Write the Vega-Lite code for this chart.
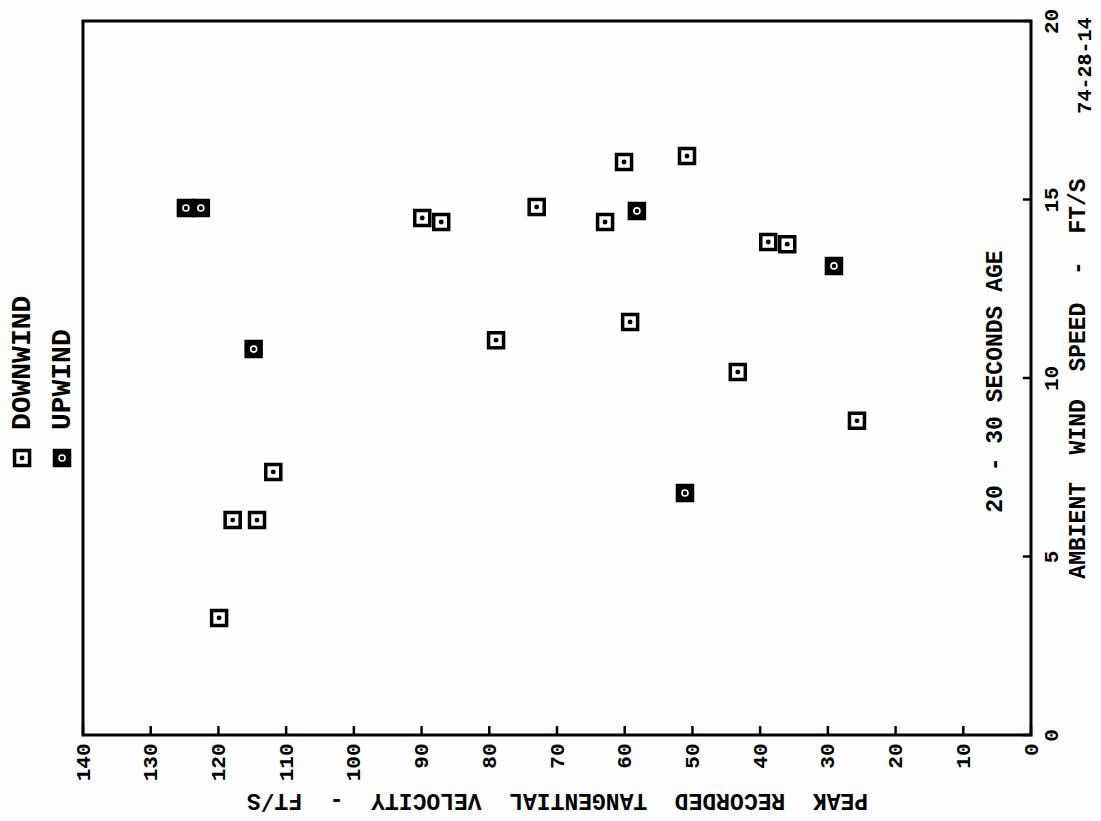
{
  "$schema": "https://vega.github.io/schema/vega-lite/v6.json",
  "width": 948,
  "height": 714,
  "autosize": {"type": "none"},
  "padding": {"left": 83, "top": 21, "right": 70, "bottom": 86},
  "background": "#fdfdfd",
  "config": {
    "view": {"stroke": "black", "strokeWidth": 3},
    "font": "Liberation Mono",
    "axis": {
      "grid": false,
      "zindex": 1,
      "domain": false,
      "ticks": true,
      "tickSize": 8,
      "tickOpacity": 0,
      "labelColor": "black",
      "titleColor": "black",
      "labelFont": "Liberation Mono",
      "titleFont": "Liberation Mono",
      "labelFontWeight": "bold",
      "titleFontWeight": "bold",
      "labelOverlap": false,
      "labelFlush": false
    }
  },
  "datasets": {
    "velocityTicks": [
      {"tick": 0}, {"tick": 10}, {"tick": 20}, {"tick": 30}, {"tick": 40},
      {"tick": 50}, {"tick": 60}, {"tick": 70}, {"tick": 80}, {"tick": 90},
      {"tick": 100}, {"tick": 110}, {"tick": 120}, {"tick": 130}, {"tick": 140}
    ],
    "windTicks": [
      {"tick": 0}, {"tick": 5}, {"tick": 10}, {"tick": 15}, {"tick": 20}
    ]
  },
  "data": {
    "values": [
      {"velocity": 119.9, "wind": 3.28, "direction": "DOWNWIND"},
      {"velocity": 117.9, "wind": 6.02, "direction": "DOWNWIND"},
      {"velocity": 114.3, "wind": 6.02, "direction": "DOWNWIND"},
      {"velocity": 111.9, "wind": 7.37, "direction": "DOWNWIND"},
      {"velocity": 89.9, "wind": 14.48, "direction": "DOWNWIND"},
      {"velocity": 87.1, "wind": 14.37, "direction": "DOWNWIND"},
      {"velocity": 79.0, "wind": 11.06, "direction": "DOWNWIND"},
      {"velocity": 73.0, "wind": 14.79, "direction": "DOWNWIND"},
      {"velocity": 62.9, "wind": 14.37, "direction": "DOWNWIND"},
      {"velocity": 60.1, "wind": 16.05, "direction": "DOWNWIND"},
      {"velocity": 59.2, "wind": 11.57, "direction": "DOWNWIND"},
      {"velocity": 50.8, "wind": 16.22, "direction": "DOWNWIND"},
      {"velocity": 43.3, "wind": 10.17, "direction": "DOWNWIND"},
      {"velocity": 38.8, "wind": 13.81, "direction": "DOWNWIND"},
      {"velocity": 36.0, "wind": 13.75, "direction": "DOWNWIND"},
      {"velocity": 25.7, "wind": 8.80, "direction": "DOWNWIND"},
      {"velocity": 124.8, "wind": 14.76, "direction": "UPWIND"},
      {"velocity": 122.6, "wind": 14.76, "direction": "UPWIND"},
      {"velocity": 114.8, "wind": 10.81, "direction": "UPWIND"},
      {"velocity": 58.2, "wind": 14.68, "direction": "UPWIND"},
      {"velocity": 51.1, "wind": 6.78, "direction": "UPWIND"},
      {"velocity": 29.1, "wind": 13.14, "direction": "UPWIND"}
    ]
  },
  "layer": [
    {
      "mark": {"type": "point", "shape": "square", "filled": true, "size": 225, "stroke": "black", "strokeWidth": 3.5, "opacity": 1},
      "encoding": {
        "x": {
          "field": "velocity",
          "type": "quantitative",
          "scale": {"domain": [0, 140], "reverse": true, "nice": false, "zero": false},
          "axis": {
            "title": "PEAK\u00a0\u00a0RECORDED\u00a0\u00a0TANGENTIAL\u00a0\u00a0VELOCITY\u00a0\u00a0-\u00a0\u00a0FT/S",
            "values": [0, 10, 20, 30, 40, 50, 60, 70, 80, 90, 100, 110, 120, 130, 140],
            "labelAngle": -90,
            "labelAlign": "right",
            "labelBaseline": "middle",
            "labelPadding": 0,
            "labelFontSize": 21,
            "titleAngle": 180,
            "titleBaseline": "bottom",
            "titleFontSize": 23,
            "titlePadding": 8
          }
        },
        "y": {
          "field": "wind",
          "type": "quantitative",
          "scale": {"domain": [0, 20], "nice": false, "zero": false},
          "axis": {
            "orient": "right",
            "title": "AMBIENT\u00a0\u00a0WIND\u00a0\u00a0SPEED\u00a0\u00a0-\u00a0\u00a0FT/S",
            "values": [0, 5, 10, 15, 20],
            "labelAngle": -90,
            "labelAlign": "center",
            "labelBaseline": "top",
            "labelPadding": 1,
            "labelFontSize": 21,
            "titleAngle": -90,
            "titleBaseline": "top",
            "titleFontSize": 23,
            "titlePadding": 5
          }
        },
        "fill": {
          "field": "direction",
          "type": "nominal",
          "scale": {"domain": ["DOWNWIND", "UPWIND"], "range": ["white", "black"]},
          "legend": null
        }
      }
    },
    {
      "transform": [{"filter": "datum.direction === 'DOWNWIND'"}],
      "mark": {"type": "point", "shape": "circle", "filled": true, "size": 24, "color": "black", "opacity": 1},
      "encoding": {
        "x": {"field": "velocity", "type": "quantitative"},
        "y": {"field": "wind", "type": "quantitative"}
      }
    },
    {
      "transform": [{"filter": "datum.direction === 'UPWIND'"}],
      "mark": {"type": "point", "shape": "circle", "filled": false, "size": 36, "stroke": "white", "strokeWidth": 1.6, "opacity": 1},
      "encoding": {
        "x": {"field": "velocity", "type": "quantitative"},
        "y": {"field": "wind", "type": "quantitative"}
      }
    },
    {
      "data": {"name": "velocityTicks"},
      "mark": {"type": "rule", "color": "black", "strokeWidth": 2.5, "opacity": 1},
      "encoding": {
        "x": {"field": "tick", "type": "quantitative"},
        "y": {"datum": 0, "type": "quantitative"},
        "y2": {"datum": 0.25}
      }
    },
    {
      "data": {"name": "windTicks"},
      "mark": {"type": "rule", "color": "black", "strokeWidth": 2.5, "opacity": 1},
      "encoding": {
        "y": {"field": "tick", "type": "quantitative"},
        "x": {"datum": 0, "type": "quantitative"},
        "x2": {"datum": 1.2}
      }
    },
    {
      "data": {"values": [{}]},
      "mark": {"type": "point", "shape": "square", "filled": true, "size": 225, "fill": "white", "stroke": "black", "strokeWidth": 3.5, "opacity": 1},
      "encoding": {
        "x": {"datum": 149.0, "type": "quantitative"},
        "y": {"datum": 7.76, "type": "quantitative"}
      }
    },
    {
      "data": {"values": [{}]},
      "mark": {"type": "point", "shape": "circle", "filled": true, "size": 24, "color": "black", "opacity": 1},
      "encoding": {
        "x": {"datum": 149.0, "type": "quantitative"},
        "y": {"datum": 7.76, "type": "quantitative"}
      }
    },
    {
      "data": {"values": [{}]},
      "mark": {"type": "point", "shape": "square", "filled": true, "size": 225, "fill": "black", "stroke": "black", "strokeWidth": 3.5, "opacity": 1},
      "encoding": {
        "x": {"datum": 143.1, "type": "quantitative"},
        "y": {"datum": 7.76, "type": "quantitative"}
      }
    },
    {
      "data": {"values": [{}]},
      "mark": {"type": "point", "shape": "circle", "filled": false, "size": 36, "stroke": "white", "strokeWidth": 1.6, "opacity": 1},
      "encoding": {
        "x": {"datum": 143.1, "type": "quantitative"},
        "y": {"datum": 7.76, "type": "quantitative"}
      }
    },
    {
      "data": {"values": [{}]},
      "mark": {"type": "text", "text": "DOWNWIND", "angle": 270, "align": "left", "baseline": "middle", "fontSize": 28, "fontWeight": "bold", "font": "Liberation Mono", "color": "black"},
      "encoding": {
        "x": {"datum": 149.0, "type": "quantitative"},
        "y": {"datum": 8.54, "type": "quantitative"}
      }
    },
    {
      "data": {"values": [{}]},
      "mark": {"type": "text", "text": "UPWIND", "angle": 270, "align": "left", "baseline": "middle", "fontSize": 28, "fontWeight": "bold", "font": "Liberation Mono", "color": "black"},
      "encoding": {
        "x": {"datum": 143.1, "type": "quantitative"},
        "y": {"datum": 8.54, "type": "quantitative"}
      }
    },
    {
      "data": {"values": [{}]},
      "mark": {"type": "text", "text": "20 - 30 SECONDS AGE", "angle": 270, "align": "center", "baseline": "middle", "fontSize": 23, "fontWeight": "bold", "font": "Liberation Mono", "color": "black"},
      "encoding": {
        "x": {"datum": 5.3, "type": "quantitative"},
        "y": {"datum": 9.9, "type": "quantitative"}
      }
    },
    {
      "data": {"values": [{}]},
      "mark": {"type": "text", "text": "74-28-14", "angle": 270, "align": "center", "baseline": "middle", "fontSize": 20, "fontWeight": "bold", "font": "Liberation Mono", "color": "black"},
      "encoding": {
        "x": {"datum": -8.0, "type": "quantitative"},
        "y": {"datum": 18.75, "type": "quantitative"}
      }
    }
  ]
}
